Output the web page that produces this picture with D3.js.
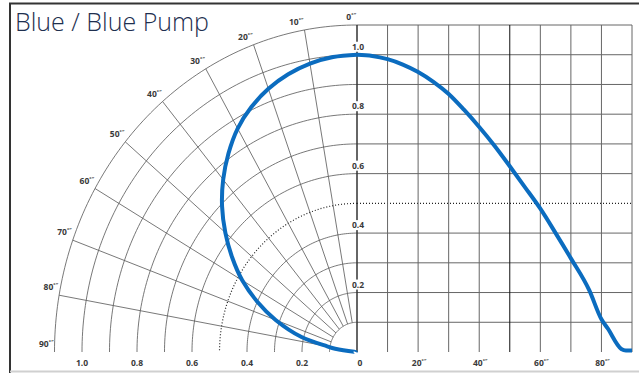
<!DOCTYPE html>
<html>
<head>
<meta charset="utf-8">
<script src="https://cdn.jsdelivr.net/npm/d3@7"></script>
<style>
  body { margin: 0; background: #fff; }
  svg { display: block; }
  .lbl { font-family: "Open Sans", sans-serif; font-weight: 700; font-size: 8.5px; fill: #3a3a3a; }
</style>
</head>
<body>
<svg id="chart" width="639" height="373"></svg>
<script>
// beam angle (deg) vs relative intensity
var angles = [0, 5, 10, 15, 20, 25, 30, 35, 40, 45, 50, 55, 60, 65, 70, 76, 80, 82, 86.5, 88, 90];
var intensity = [1.0, 0.996, 0.985, 0.967, 0.942, 0.909, 0.868, 0.815, 0.757, 0.694, 0.625, 0.554, 0.482, 0.4, 0.315, 0.208, 0.11, 0.08, 0.01, 0.005, 0.005];

var ringValues = [0.1, 0.2, 0.3, 0.4, 0.5, 0.6, 0.7, 0.8, 0.9, 1.0, 1.1];
var spokeAngles = [10, 20, 30, 40, 50, 60, 70, 80];
var angleLabels = [0, 10, 20, 30, 40, 50, 60, 70, 80, 90];
var valueLabels = [0.2, 0.4, 0.6, 0.8, 1.0];
var degTicks = [20, 40, 60, 80];

var data = angles.map(function(a, i) { return {a: a, v: intensity[i]}; });

var svg = d3.select('#chart');
var cx = 357, cy = 352;

// right side: cartesian, angle on x
var x = d3.scaleLinear().domain([0, 90]).range([cx, 632]);
var y = d3.scaleLinear().domain([0, 1.1]).range([cy, 25]);
// left side: polar, horizontal radius is a bit narrower than vertical
var rx = d3.scaleLinear().domain([0, 1.1]).range([0, 302.5]);

function px(r, deg) { return cx - rx(r * Math.sin(deg * Math.PI / 180)); }
function py(r, deg) { return y(r * Math.cos(deg * Math.PI / 180)); }

// frame
svg.append('line').attr('x1', 9).attr('x2', 639).attr('y1', 3.5).attr('y2', 3.5)
  .attr('stroke', '#333').attr('stroke-width', 2);
svg.append('line').attr('x1', 10).attr('x2', 10).attr('y1', 3).attr('y2', 373)
  .attr('stroke', '#333').attr('stroke-width', 2);
svg.append('line').attr('x1', 10).attr('x2', 639).attr('y1', 371.5).attr('y2', 371.5)
  .attr('stroke', '#d0d0d0').attr('stroke-width', 2);

svg.append('text')
  .attr('x', 15).attr('y', 31)
  .style('font-family', '"Open Sans", sans-serif')
  .style('font-weight', 300)
  .style('font-size', '25px')
  .style('fill', '#1e2f4f')
  .text('Blue / Blue Pump');

// polar rings
var arcLine = d3.line().x(function(d) { return d[0]; }).y(function(d) { return d[1]; });
var degs = d3.range(0, 90.5, 1);
svg.append('g').selectAll('path')
  .data(ringValues)
  .enter().append('path')
  .attr('d', function(r) { return arcLine(degs.map(function(t) { return [px(r, t), py(r, t)]; })); })
  .attr('fill', 'none')
  .attr('stroke', function(r) { return r === 0.5 ? '#222' : '#555'; })
  .attr('stroke-width', function(r) { return r === 0.5 ? 1.2 : 0.8; })
  .attr('stroke-dasharray', function(r) { return r === 0.5 ? '1,2' : null; });

// polar spokes
svg.append('g').selectAll('line')
  .data(spokeAngles)
  .enter().append('line')
  .attr('x1', function(t) { return px(0.1, t); })
  .attr('y1', function(t) { return py(0.1, t); })
  .attr('x2', function(t) { return px(1.1, t); })
  .attr('y2', function(t) { return py(1.1, t); })
  .attr('stroke', '#555').attr('stroke-width', 0.8);

// right grid
svg.append('g').selectAll('line')
  .data(ringValues)
  .enter().append('line')
  .attr('x1', cx).attr('x2', x(90))
  .attr('y1', function(v) { return y(v); }).attr('y2', function(v) { return y(v); })
  .attr('stroke', function(v) { return v === 0.5 ? '#222' : '#666'; })
  .attr('stroke-width', function(v) { return v === 0.5 ? 1.2 : 1; })
  .attr('stroke-dasharray', function(v) { return v === 0.5 ? '1,2' : null; });

svg.append('g').selectAll('line')
  .data(d3.range(10, 91, 10))
  .enter().append('line')
  .attr('x1', function(a) { return x(a); }).attr('x2', function(a) { return x(a); })
  .attr('y1', y(1.1)).attr('y2', cy)
  .attr('stroke', function(a) { return a === 50 ? '#111' : '#666'; })
  .attr('stroke-width', 1);

// centre axis
svg.append('line').attr('x1', cx).attr('x2', cx).attr('y1', y(1.1)).attr('y2', cy)
  .attr('stroke', '#333').attr('stroke-width', 1.5);

// axis value labels with white backing
var vl = svg.append('g').selectAll('g').data(valueLabels).enter().append('g');
vl.append('rect')
  .attr('x', cx - 8).attr('width', 16)
  .attr('y', function(v) { return y(v) - 13; }).attr('height', 10)
  .attr('fill', '#fff');
vl.append('text').attr('class', 'lbl')
  .attr('x', cx + 1).attr('y', function(v) { return y(v) - 5; })
  .attr('text-anchor', 'middle')
  .text(function(v) { return v.toFixed(1); });

// polar angle labels
var al = svg.append('g').selectAll('text').data(angleLabels).enter().append('text')
  .attr('class', 'lbl')
  .attr('text-anchor', 'end')
  .attr('x', function(t) { return px(1.1, t) - 1; })
  .attr('y', function(t) { return py(1.1, t) - 5; });
al.append('tspan').text(function(t) { return t; });
al.append('tspan').attr('dy', -3).style('font-size', '5px').text('\u00b0\u2033');

// bottom labels
svg.append('g').selectAll('text').data(valueLabels).enter().append('text')
  .attr('class', 'lbl').attr('text-anchor', 'middle')
  .attr('x', function(v) { return cx - rx(v); }).attr('y', 366)
  .text(function(v) { return v.toFixed(1); });
svg.append('text').attr('class', 'lbl').attr('text-anchor', 'middle')
  .attr('x', cx + 3).attr('y', 366).text('0');
var dl = svg.append('g').selectAll('text').data(degTicks).enter().append('text')
  .attr('class', 'lbl').attr('text-anchor', 'middle')
  .attr('x', function(a) { return x(a) + 1; }).attr('y', 366);
dl.append('tspan').text(function(a) { return a; });
dl.append('tspan').attr('dy', -3).style('font-size', '5px').text('\u00b0\u2033');

// curves
var blue = '#0b6cbf';
svg.append('path')
  .datum(data)
  .attr('d', d3.line().curve(d3.curveMonotoneX)
    .x(function(d) { return x(d.a); })
    .y(function(d) { return y(d.v); }))
  .attr('fill', 'none').attr('stroke', blue).attr('stroke-width', 4);

svg.append('path')
  .datum(data)
  .attr('d', d3.line().curve(d3.curveCatmullRom)
    .x(function(d) { return px(d.v, d.a); })
    .y(function(d) { return py(d.v, d.a); }))
  .attr('fill', 'none').attr('stroke', blue).attr('stroke-width', 4);
</script>
</body>
</html>
